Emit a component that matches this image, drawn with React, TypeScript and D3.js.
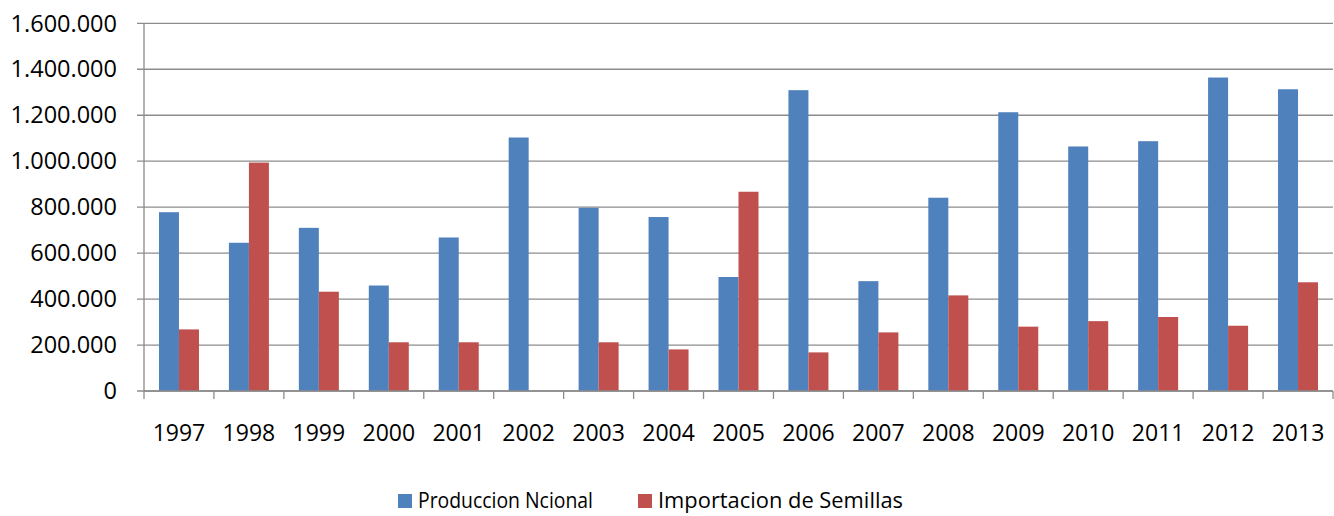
import React from "react";
import * as d3 from "d3";

const years = ["1997","1998","1999","2000","2001","2002","2003","2004","2005","2006","2007","2008","2009","2010","2011","2012","2013"];
const produccion = [778000, 645000, 710000, 459000, 668000, 1103000, 797000, 757000, 496000, 1309000, 478000, 841000, 1213000, 1064000, 1087000, 1364000, 1313000];
const importacion = [268000, 994000, 432000, 212000, 212000, 0, 212000, 181000, 867000, 168000, 255000, 416000, 280000, 304000, 322000, 284000, 473000];
const yTicks = [0, 200000, 400000, 600000, 800000, 1000000, 1200000, 1400000, 1600000];
const seriesNames = ["Produccion Ncional", "Importacion de Semillas"];
const colors = ["#4F81BD", "#C0504D"];

const W = 1334, H = 516;
const left = 144, right = 1333, top = 23.3, bottom = 391;
const font = "'Open Sans', sans-serif";

const fmt = (v: number) => v === 0 ? "0" : d3.format(",")(v).replace(/,/g, ".");

export default function App() {
  const x = d3.scaleBand<string>().domain(years).range([left, right]).paddingInner(0).paddingOuter(0);
  const y = d3.scaleLinear().domain([0, 1600000]).range([bottom, top]);
  const bw = 20;
  const offset = (x.bandwidth() - 2 * bw) / 2;
  const grid = "#8C8C8C";
  return (
    <svg width={W} height={H} style={{ position: "absolute", left: 0, top: 0, background: "#fff" }} fontFamily={font}>
      {yTicks.map((t) => (
        <g key={t}>
          <line x1={left - 7} x2={right} y1={y(t)} y2={y(t)} stroke={grid} strokeWidth={1.3} />
          <text x={117} y={y(t)} dy="0.35em" textAnchor="end" fontSize={23.5} fill="#000">{fmt(t)}</text>
        </g>
      ))}
      {years.map((yr, i) => {
        const x0 = x(yr)! + offset;
        return (
          <g key={yr}>
            <rect x={x0} y={y(produccion[i])} width={bw} height={bottom - y(produccion[i])} fill={colors[0]} />
            <rect x={x0 + bw} y={y(importacion[i])} width={bw} height={bottom - y(importacion[i])} fill={colors[1]} />
            <text x={x(yr)! + x.bandwidth() / 2} y={441} textAnchor="middle" fontSize={23} fill="#000">{yr}</text>
          </g>
        );
      })}
      <line x1={left} x2={left} y1={top} y2={bottom + 8} stroke={grid} strokeWidth={1.3} />
      {years.map((yr) => (
        <line key={"t" + yr} x1={x(yr)! + x.bandwidth()} x2={x(yr)! + x.bandwidth()} y1={bottom} y2={bottom + 8} stroke={grid} strokeWidth={1.3} />
      ))}
      <line x1={left} x2={right} y1={bottom} y2={bottom} stroke={grid} strokeWidth={1.3} />
      <g>
        <rect x={398} y={494} width={14} height={14} fill={colors[0]} />
        <text x={418} y={501} dy="0.35em" fontSize={21} fill="#000" textLength={175} lengthAdjust="spacingAndGlyphs">{seriesNames[0]}</text>
        <rect x={638} y={494} width={14} height={14} fill={colors[1]} />
        <text x={658} y={501} dy="0.35em" fontSize={21} fill="#000" textLength={245} lengthAdjust="spacingAndGlyphs">{seriesNames[1]}</text>
      </g>
    </svg>
  );
}
